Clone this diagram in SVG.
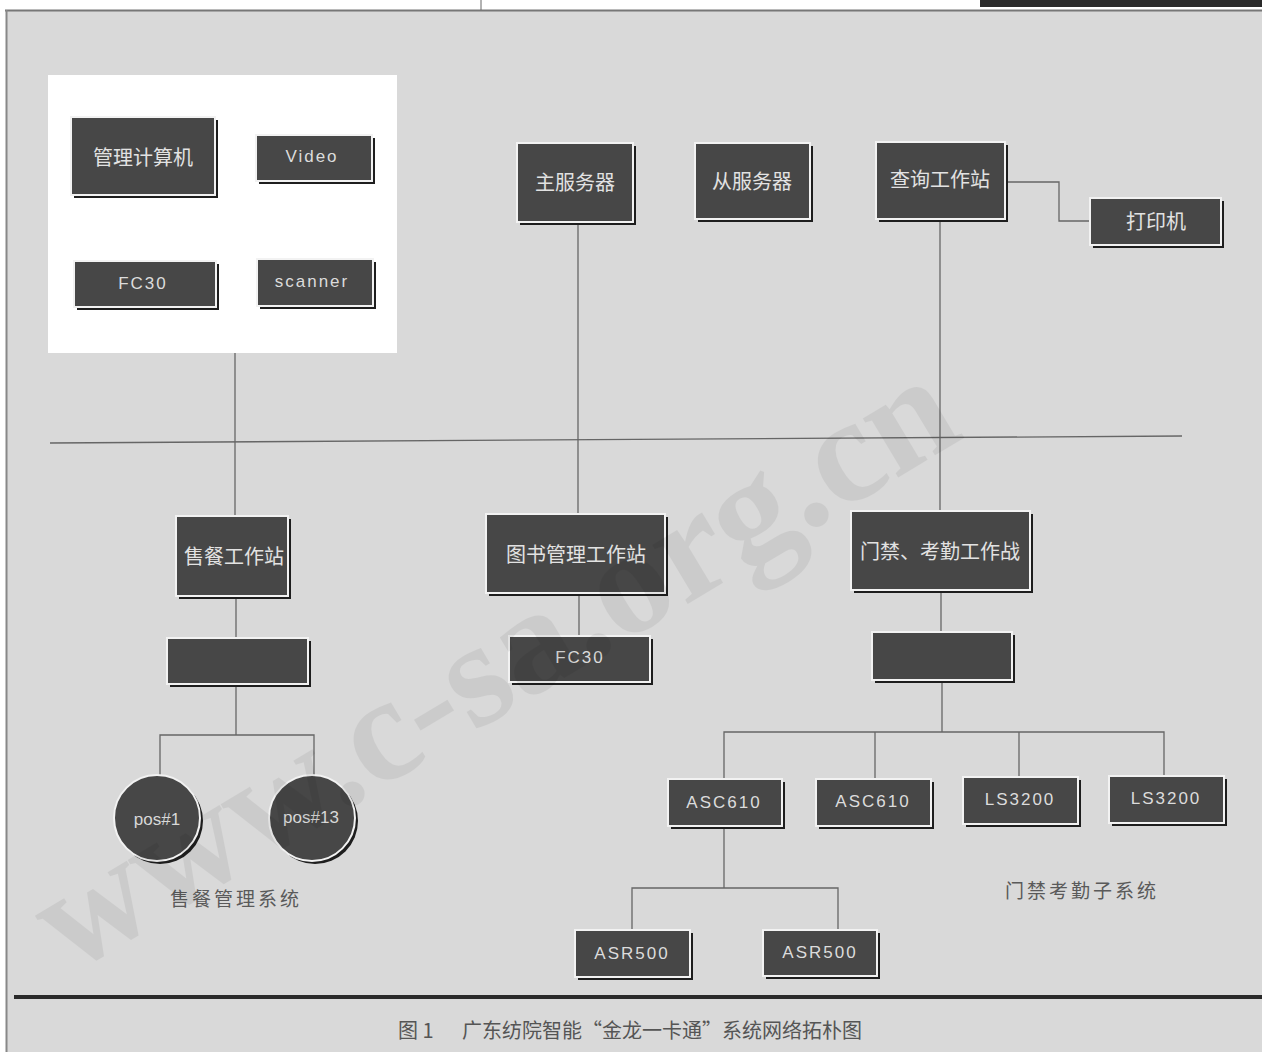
<svg xmlns="http://www.w3.org/2000/svg" width="1262" height="1052" viewBox="0 0 1262 1052">
<style>
.box{fill:#474747;stroke:#f2f2f2;stroke-width:2}
.sh{fill:#1e1e1e}
.cn{font-family:"Noto Sans CJK SC","Liberation Sans",sans-serif;font-size:20px;fill:#e2e2e2;text-anchor:middle;dominant-baseline:central}
.en{font-family:"Liberation Sans",sans-serif;font-size:17px;fill:#dcdcdc;text-anchor:middle;dominant-baseline:central;letter-spacing:2px}
.pos{font-family:"Liberation Sans",sans-serif;font-size:17px;fill:#d8d8d8;text-anchor:middle;dominant-baseline:central}
.lbl{font-family:"Noto Sans CJK SC",sans-serif;font-size:19px;fill:#5a5a5a;text-anchor:middle;dominant-baseline:central;letter-spacing:3px}
.cap{font-family:"Noto Sans CJK SC",sans-serif;font-size:20px;fill:#555;dominant-baseline:central}
.ln{stroke:#666;stroke-width:1.3;fill:none}
.wm{font-family:"Liberation Serif",serif;font-weight:bold;fill:#000;opacity:0.06}
</style>
<rect width="1262" height="1052" fill="#ffffff"/>
<rect x="6" y="10" width="1256" height="1042" fill="#d9d9d9"/>
<line x1="5" y1="10.5" x2="1262" y2="10.5" stroke="#777" stroke-width="2"/>
<line x1="6.5" y1="10" x2="6.5" y2="1052" stroke="#888" stroke-width="2"/>
<rect x="980" y="0" width="282" height="7" fill="#2a2a2a"/>
<line x1="481" y1="0" x2="481" y2="10" stroke="#666" stroke-width="1"/>
<rect x="48" y="75" width="349" height="278" fill="#ffffff"/>

<g id="connectors">
<line class="ln" x1="50" y1="443" x2="1182" y2="436"/>
<polyline class="ln" points="235,353 235,516"/>
<polyline class="ln" points="236,596 236,638"/>
<polyline class="ln" points="236,684 236,735"/>
<polyline class="ln" points="160,776 160,735 314,735 314,775"/>
<polyline class="ln" points="578,222 578,514"/>
<polyline class="ln" points="579,593 579,636"/>
<polyline class="ln" points="940,219 940,511"/>
<polyline class="ln" points="941,590 941,632"/>
<polyline class="ln" points="942,680 942,732"/>
<polyline class="ln" points="724,779 724,732 1164,732 1164,776"/>
<polyline class="ln" points="875,732 875,779"/>
<polyline class="ln" points="1019,732 1019,777"/>
<polyline class="ln" points="1005,182 1059,182 1059,221 1090,221"/>
<polyline class="ln" points="724,826 724,888"/>
<polyline class="ln" points="632,930 632,888 838,888 838,930"/>
</g>

<g id="n-guanli"><rect class="sh" x="74" y="120" width="144" height="78"/><rect class="box" x="71" y="117" width="144" height="78"/><text class="cn" x="143" y="156">管理计算机</text></g>
<g id="n-video"><rect class="sh" x="259" y="138" width="116" height="46"/><rect class="box" x="256" y="135" width="116" height="46"/><text class="en" x="312" y="156">Video</text></g>
<g id="n-fc30a"><rect class="sh" x="77" y="264" width="142" height="46"/><rect class="box" x="74" y="261" width="142" height="46"/><text class="en" x="143" y="283">FC30</text></g>
<g id="n-scanner"><rect class="sh" x="260" y="262" width="116" height="47"/><rect class="box" x="257" y="259" width="116" height="47"/><text class="en" x="312" y="281">scanner</text></g>
<g id="n-zhu"><rect class="sh" x="520" y="146" width="116" height="79"/><rect class="box" x="517" y="143" width="116" height="79"/><text class="cn" x="575" y="181">主服务器</text></g>
<g id="n-cong"><rect class="sh" x="698" y="146" width="115" height="76"/><rect class="box" x="695" y="143" width="115" height="76"/><text class="cn" x="752" y="180">从服务器</text></g>
<g id="n-chaxun"><rect class="sh" x="879" y="145" width="129" height="77"/><rect class="box" x="876" y="142" width="129" height="77"/><text class="cn" x="940" y="178">查询工作站</text></g>
<g id="n-dayin"><rect class="sh" x="1093" y="201" width="131" height="47"/><rect class="box" x="1090" y="198" width="131" height="47"/><text class="cn" x="1156" y="220">打印机</text></g>
<g id="n-shoucan"><rect class="sh" x="179" y="519" width="112" height="80"/><rect class="box" x="176" y="516" width="112" height="80"/><text class="cn" x="234" y="555">售餐工作站</text></g>
<g id="n-tushu"><rect class="sh" x="489" y="517" width="179" height="79"/><rect class="box" x="486" y="514" width="179" height="79"/><text class="cn" x="576" y="553" font-size="18">图书管理工作站</text></g>
<g id="n-fc30b"><rect class="sh" x="512" y="639" width="141" height="46"/><rect class="box" x="509" y="636" width="141" height="46"/><text class="en" x="580" y="657">FC30</text></g>
<g id="n-menjin"><rect class="sh" x="854" y="514" width="179" height="79"/><rect class="box" x="851" y="511" width="179" height="79"/><text class="cn" x="940" y="550" font-size="19">门禁、考勤工作战</text></g>
<g id="n-blank1"><rect class="sh" x="170" y="641" width="141" height="46"/><rect class="box" x="167" y="638" width="141" height="46"/></g>
<g id="n-blank2"><rect class="sh" x="875" y="635" width="140" height="48"/><rect class="box" x="872" y="632" width="140" height="48"/></g>
<g id="n-asc1"><rect class="sh" x="671" y="782" width="114" height="47"/><rect class="box" x="668" y="779" width="114" height="47"/><text class="en" x="724" y="802">ASC610</text></g>
<g id="n-asc2"><rect class="sh" x="819" y="782" width="115" height="47"/><rect class="box" x="816" y="779" width="115" height="47"/><text class="en" x="873" y="801">ASC610</text></g>
<g id="n-ls1"><rect class="sh" x="966" y="780" width="115" height="47"/><rect class="box" x="963" y="777" width="115" height="47"/><text class="en" x="1020" y="799">LS3200</text></g>
<g id="n-ls2"><rect class="sh" x="1112" y="779" width="115" height="47"/><rect class="box" x="1109" y="776" width="115" height="47"/><text class="en" x="1166" y="798">LS3200</text></g>
<g id="n-asr1"><rect class="sh" x="578" y="933" width="115" height="47"/><rect class="box" x="575" y="930" width="115" height="47"/><text class="en" x="632" y="953">ASR500</text></g>
<g id="n-asr2"><rect class="sh" x="766" y="933" width="114" height="46"/><rect class="box" x="763" y="930" width="114" height="46"/><text class="en" x="820" y="952">ASR500</text></g>
<g id="n-pos1"><circle cx="160" cy="821" r="43" fill="#1e1e1e"/><circle class="box" cx="157" cy="818" r="43" stroke-width="3"/><text class="pos" x="157" y="819">pos#1</text></g>
<g id="n-pos13"><circle cx="315" cy="821" r="43" fill="#1e1e1e"/><circle class="box" cx="312" cy="818" r="43" stroke-width="3"/><text class="pos" x="311" y="817">pos#13</text></g>

<text class="lbl" x="236" y="897">售餐管理系统</text>
<text class="lbl" x="1082" y="889">门禁考勤子系统</text>
<line x1="14" y1="997" x2="1262" y2="997" stroke="#2a2a2a" stroke-width="4"/>
<text class="cap" x="398" y="1029">图 1</text>
<text class="cap" x="462" y="1029">广东纺院智能“金龙一卡通”系统网络拓朴图</text>
<text class="wm" font-size="150" transform="translate(70 975) rotate(-31)">www.c-sa.org.cn</text>
</svg>
